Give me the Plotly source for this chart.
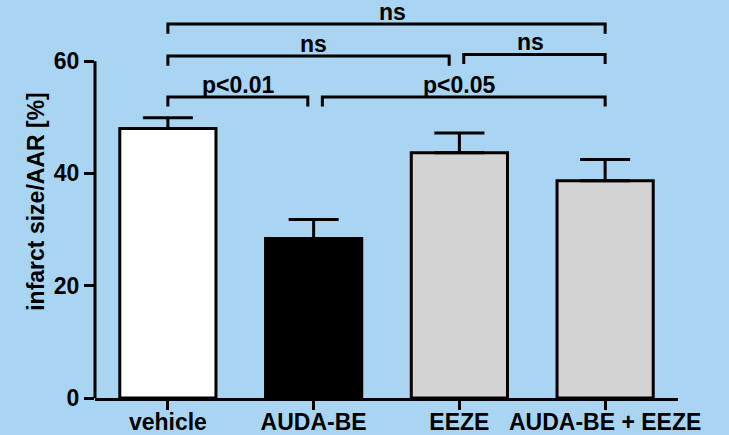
import plotly.graph_objects as go

categories = ["vehicle", "AUDA-BE", "EEZE", "AUDA-BE + EEZE"]
means = [48.0, 28.4, 43.7, 38.7]
sem = [1.9, 3.4, 3.5, 3.8]
bar_colors = ["#FFFFFF", "#000000", "#D3D3D3", "#D3D3D3"]

# significance brackets: (left, right) positions, bracket height, label
bracket_left = [0, 0, 2.03, 0, 1.06]
bracket_right = [3, 1.93, 3, 0.96, 3]
bracket_height = [66.6, 60.9, 61.2, 53.6, 53.6]
bracket_labels = ["ns", "ns", "ns", "p<0.01", "p<0.05"]
label_pos = [1.54, 1.0, 2.49, 0.48, 2.0]

y_ticks = [0, 20, 40, 60]

BG = "#A9D5F2"
FONT = dict(family="Liberation Sans, Arial, sans-serif", size=23, color="black", weight="bold")

xs = list(range(len(categories)))
fig = go.Figure()
fig.add_trace(go.Bar(
    x=xs, y=means, width=0.66,
    marker=dict(color=bar_colors, line=dict(color="black", width=3)),
    error_y=dict(type="data", array=sem, arrayminus=[0] * len(sem), symmetric=False,
                 color="black", thickness=3, width=25),
    showlegend=False, hoverinfo="skip",
))

drop = 1.7
for x0, x1, h, lab, lx in zip(bracket_left, bracket_right, bracket_height, bracket_labels, label_pos):
    fig.add_trace(go.Scatter(
        x=[x0, x0, x1, x1], y=[h - drop, h, h, h - drop], mode="lines",
        line=dict(color="black", width=3), showlegend=False, hoverinfo="skip",
    ))
    fig.add_annotation(x=lx, y=h, text=lab, showarrow=False, xref="x", yref="y",
                       yanchor="bottom", yshift=-2, borderpad=0, font=FONT)

# y-axis spine limited to the tick range
fig.add_shape(type="line", xref="paper", yref="y", x0=0, x1=0, y0=0, y1=max(y_ticks),
              line=dict(color="black", width=3))

fig.update_layout(
    width=729, height=435,
    margin=dict(l=95, r=51, t=5, b=37),
    paper_bgcolor=BG, plot_bgcolor=BG,
    font=FONT,
    xaxis=dict(range=[-0.5, 3.5], tickvals=xs, ticktext=categories, showline=True,
               linecolor="black", linewidth=3, ticks="outside", ticklen=9, tickwidth=3,
               tickcolor="black", showgrid=False, zeroline=False, tickfont=FONT,
               automargin=False, ticklabelstandoff=-8),
    yaxis=dict(range=[0, 70], tickvals=y_ticks, showline=False, ticks="outside",
               ticklen=10, tickwidth=3, tickcolor="black", showgrid=False, zeroline=False,
               tickfont=FONT, automargin=False,
               title=dict(text="infarct size/AAR [%]", font=FONT, standoff=2)),
)

fig.write_html("out.html", config={"displayModeBar": False},
               post_script="document.body.style.margin='0';document.body.style.padding='0';"
                           "document.body.style.overflow='hidden';")
